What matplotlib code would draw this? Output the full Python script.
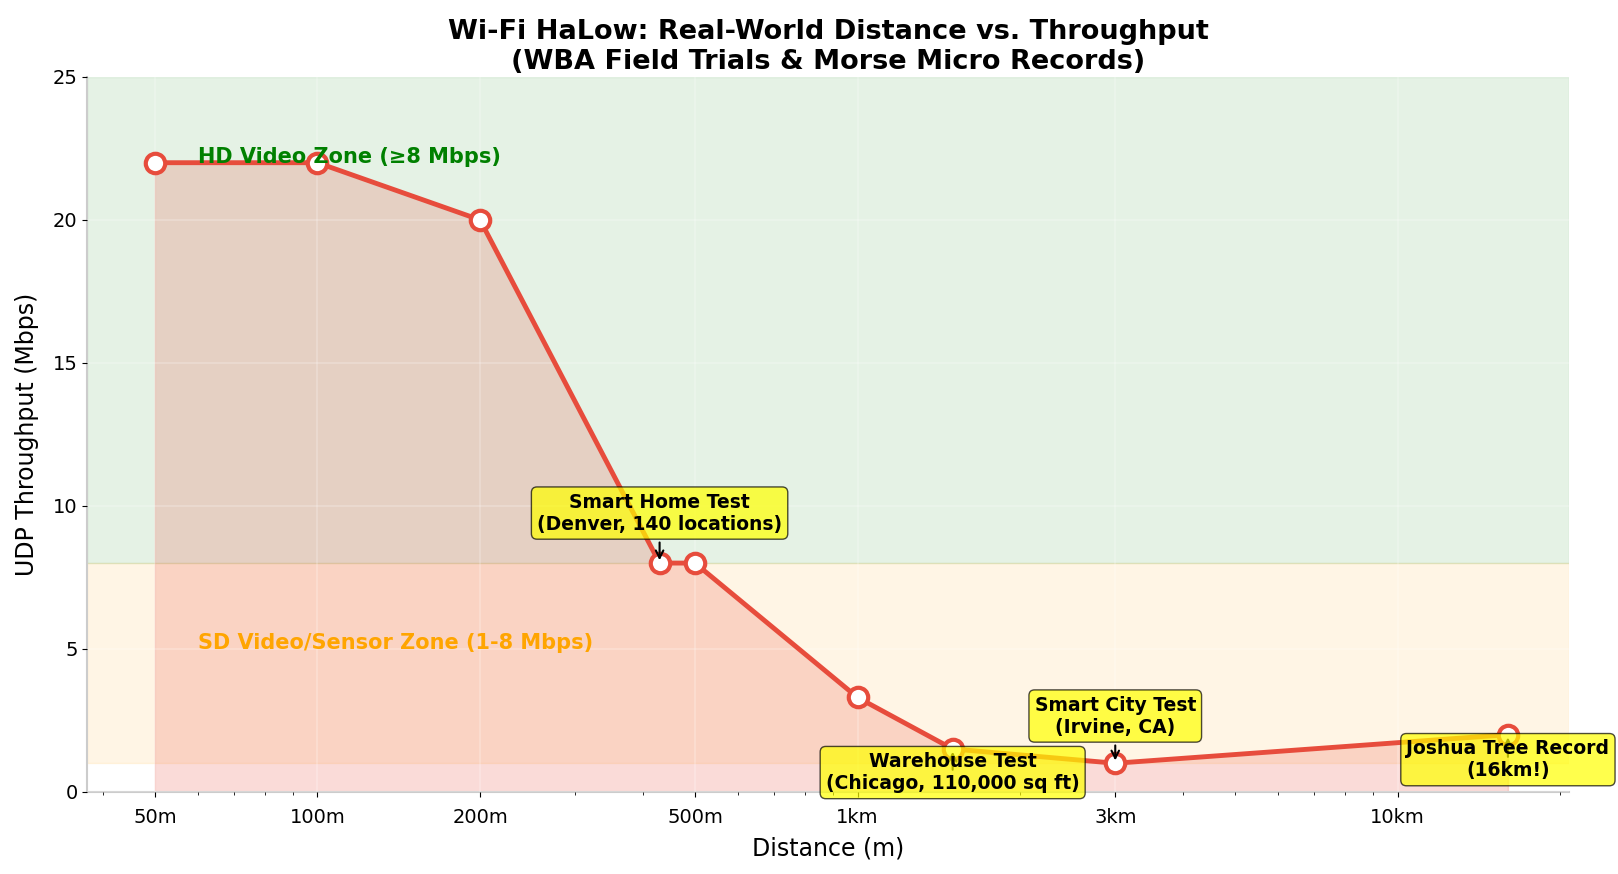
import matplotlib
matplotlib.use("Agg")
import matplotlib.pyplot as plt
from matplotlib.ticker import FixedLocator, FixedFormatter

# data
distance_m = [50, 100, 200, 430, 500, 1000, 1500, 3000, 16000]
throughput = [22, 22, 20, 8, 8, 3.3, 1.5, 1, 2]

tick_pos = [50, 100, 200, 500, 1000, 3000, 10000]
tick_lab = ['50m', '100m', '200m', '500m', '1km', '3km', '10km']

notes = [
    ("Smart Home Test\n(Denver, 140 locations)", 430, 8, (0, 36)),
    ("Warehouse Test\n(Chicago, 110,000 sq ft)", 1500, 1.5, (0, -17)),
    ("Smart City Test\n(Irvine, CA)", 3000, 1, (0, 34)),
    ("Joshua Tree Record\n(16km!)", 16000, 2, (0, -18)),
]

red = '#e74c3c'

fig, ax = plt.subplots(figsize=(16.18, 8.74), dpi=100)

ax.axhspan(8, 25, color='green', alpha=0.1)
ax.axhspan(1, 8, color='orange', alpha=0.1)

ax.fill_between(distance_m, 0, throughput, color=red, alpha=0.2)
ax.plot(distance_m, throughput, color=red, lw=3.5, marker='o', ms=14,
        mfc='white', mec=red, mew=3, zorder=5)

ax.set_xscale('log')
ax.set_xlim(50 * 0.75, 16000 * 1.3)
ax.set_ylim(0, 25)

ax.text(60, 22.2, "HD Video Zone (\u22658 Mbps)", color='green', fontsize=15,
        fontweight='bold', va='center', zorder=7)
ax.text(60, 5.2, "SD Video/Sensor Zone (1-8 Mbps)", color='orange', fontsize=15,
        fontweight='bold', va='center', zorder=7)

for txt, x, y, off in notes:
    ax.annotate(txt, xy=(x, y), xytext=off, textcoords='offset points',
                ha='center', va='center', fontsize=13.5, fontweight='bold',
                bbox=dict(boxstyle='round,pad=0.3', fc='yellow', ec='black', alpha=0.7),
                arrowprops=dict(arrowstyle='->', color='black', lw=1.5), zorder=8)

ax.xaxis.set_major_locator(FixedLocator(tick_pos))
ax.xaxis.set_major_formatter(FixedFormatter(tick_lab))
ax.tick_params(axis='both', labelsize=14)
ax.tick_params(axis='x', which='major', pad=8)

ax.grid(True, color='white', alpha=0.25, lw=1.2)
ax.set_axisbelow(False)
for s in ['top', 'right']:
    ax.spines[s].set_visible(False)
for s in ['left', 'bottom']:
    ax.spines[s].set_color('#cccccc')
    ax.spines[s].set_linewidth(1.5)

ax.set_xlabel("Distance (m)", fontsize=17, labelpad=7)
ax.set_ylabel("UDP Throughput (Mbps)", fontsize=17, labelpad=10)
ax.set_title("Wi-Fi HaLow: Real-World Distance vs. Throughput\n(WBA Field Trials & Morse Micro Records)",
             fontsize=19.5, fontweight='bold')

plt.subplots_adjust(left=0.054, right=0.97, top=0.912, bottom=0.094)
fig.savefig("out.png", dpi=100)
